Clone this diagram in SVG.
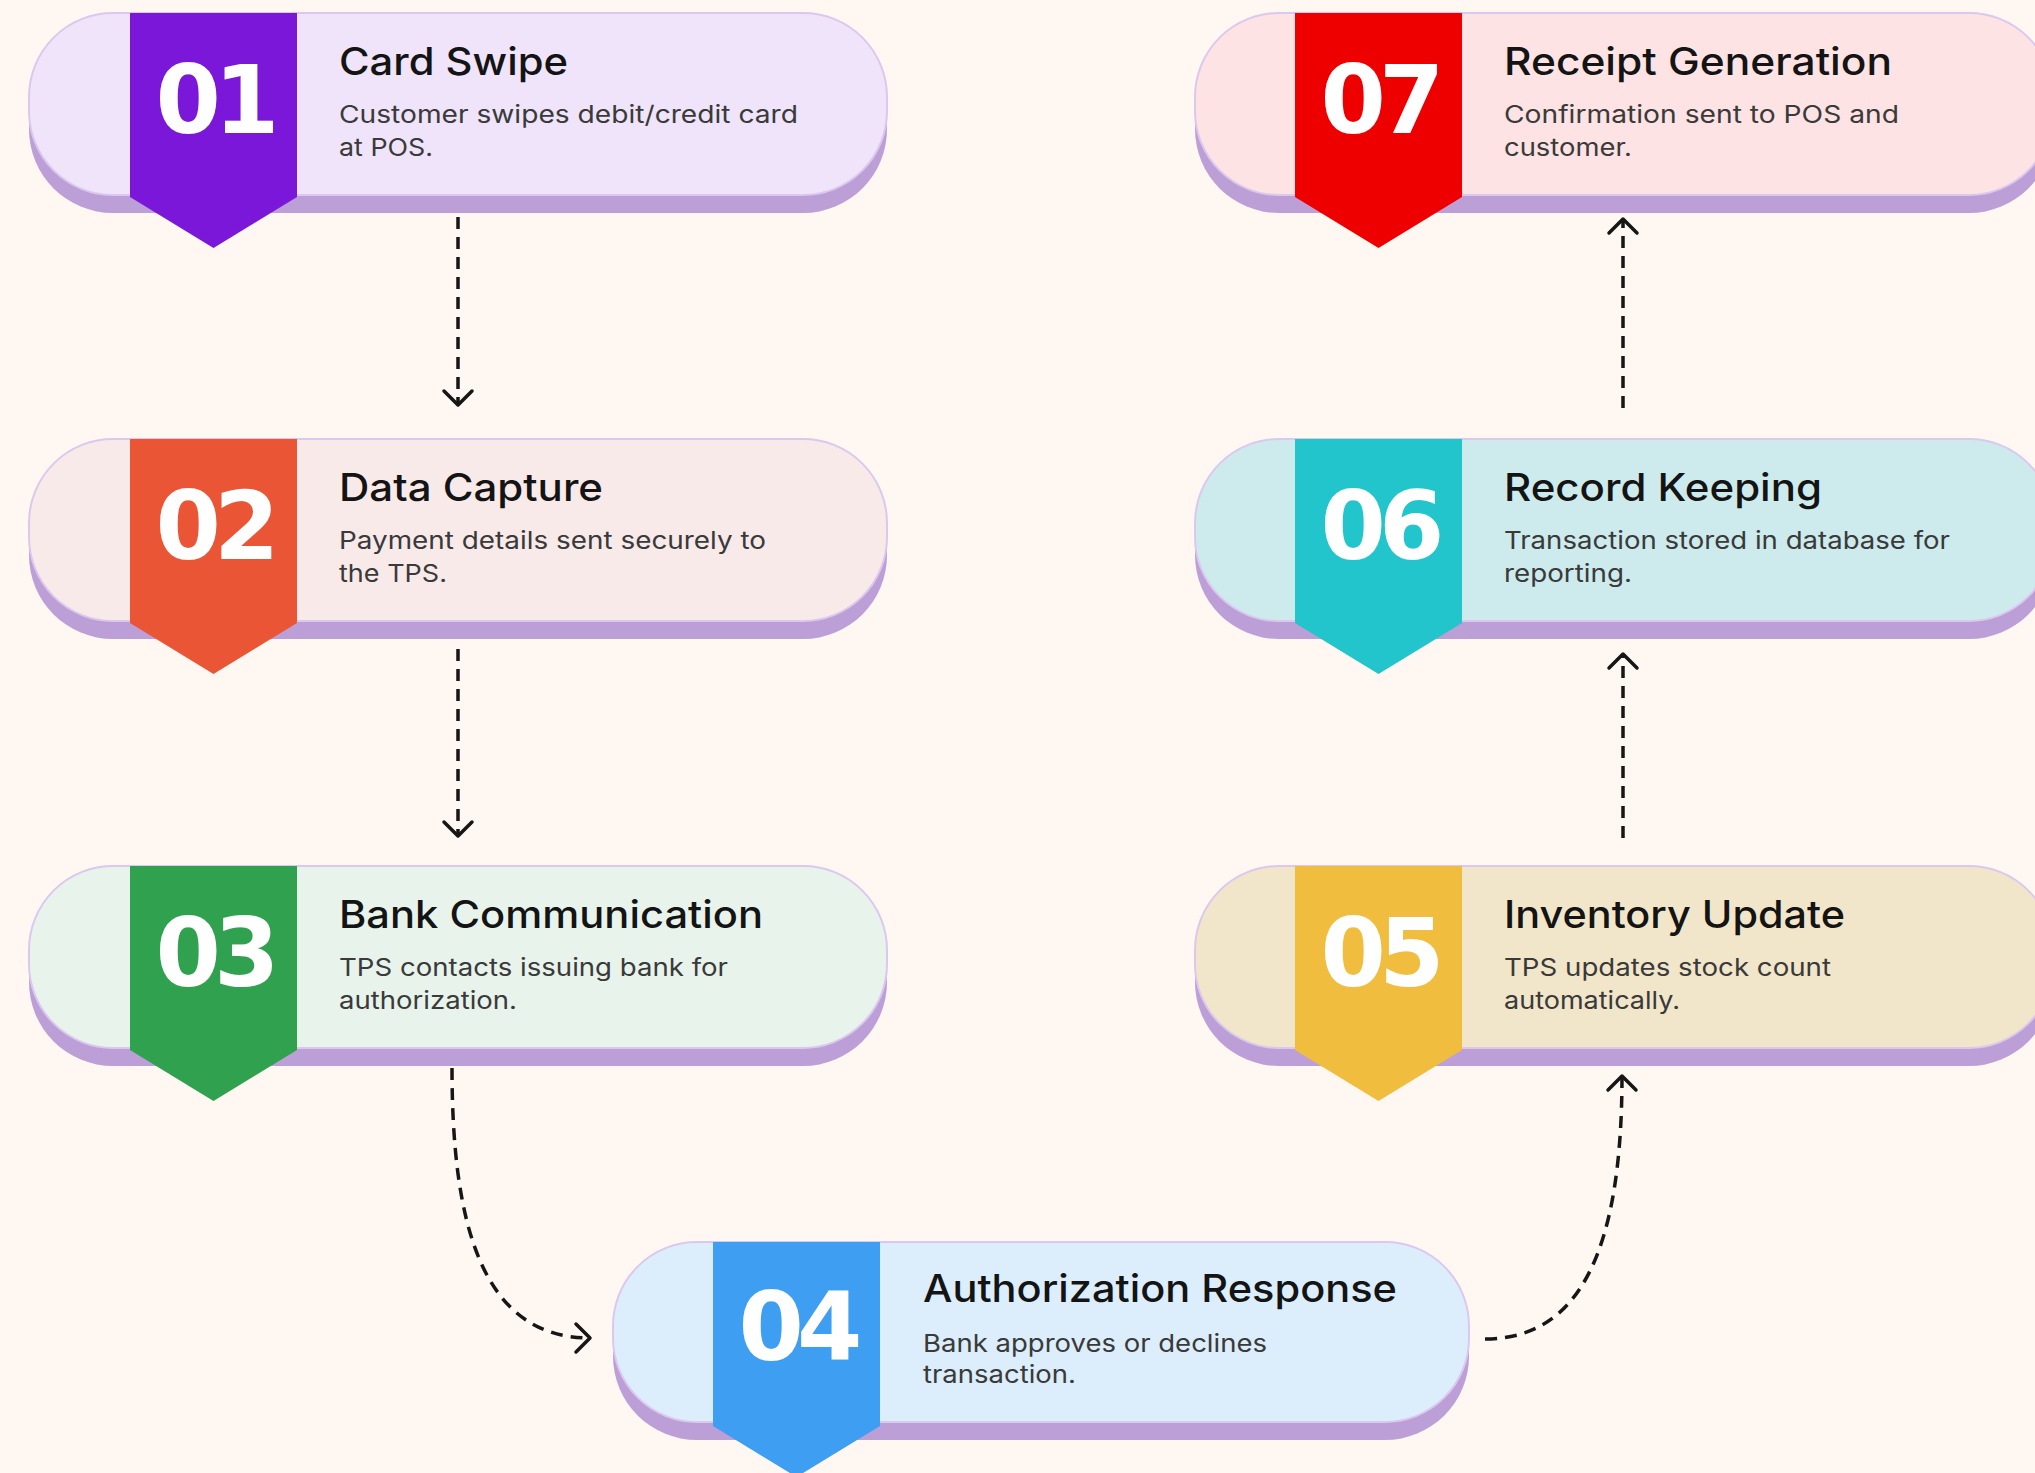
<svg xmlns="http://www.w3.org/2000/svg" width="2035" height="1473" viewBox="0 0 2035 1473">
<style>
.bg{fill:#FEF7F2}
.shadow{fill:#BC9FD6}
.pill{stroke:#DCC8EE;stroke-width:2}
.num{font-family:"DejaVu Sans","Liberation Sans",sans-serif;font-weight:700;font-size:94px;fill:#FFFFFF;text-anchor:middle;letter-spacing:-7px}
.title{font-family:Inter,"Liberation Sans",sans-serif;font-weight:500;font-size:38px;fill:#141414}
.desc{font-family:Inter,"Liberation Sans",sans-serif;font-weight:400;font-size:24.5px;fill:#3A3A3A}
.conn{fill:none;stroke:#161616;stroke-width:3.5;stroke-dasharray:12 8}
</style>
<defs>
<marker id="chev" viewBox="-18 -18 22 36" markerWidth="22" markerHeight="36" refX="0" refY="0" orient="auto" markerUnits="userSpaceOnUse">
<path d="M-14,-14 L0,0 L-14,14" fill="none" stroke="#161616" stroke-width="3.5" stroke-linecap="round" stroke-linejoin="round" stroke-dasharray="none"/>
</marker>
</defs>
<rect class="bg" x="0" y="0" width="2035" height="1473"/>

<g id="connectors">
<path class="conn" d="M458,217 L458,405" marker-end="url(#chev)"/>
<path class="conn" d="M458,649 L458,836" marker-end="url(#chev)"/>
<path class="conn" d="M452,1068 C452,1220 480,1338 590,1338" marker-end="url(#chev)"/>
<path class="conn" d="M1485,1339 C1580,1339 1622,1250 1622,1076" marker-end="url(#chev)"/>
<path class="conn" d="M1623,838 L1623,654" marker-end="url(#chev)"/>
<path class="conn" d="M1623,408 L1623,219" marker-end="url(#chev)"/>
</g>

<g id="step-01" transform="translate(29,13)">
<rect class="shadow" x="0" y="18" width="858" height="182" rx="84"/>
<rect class="pill" x="0" y="0" width="858" height="182" rx="84" fill="#EFE4F9"/>
<path d="M101,0 H268 V184 L184.5,235 L101,184 Z" fill="#7B17D9"/>
<text class="num" x="185" y="120">01</text>
<text class="title" x="310" y="62" textLength="229" lengthAdjust="spacingAndGlyphs">Card Swipe</text>
<text class="desc" x="310" y="110" textLength="459" lengthAdjust="spacingAndGlyphs">Customer swipes debit/credit card</text>
<text class="desc" x="310" y="143" textLength="94" lengthAdjust="spacingAndGlyphs">at POS.</text>
</g>

<g id="step-02" transform="translate(29,439)">
<rect class="shadow" x="0" y="18" width="858" height="182" rx="84"/>
<rect class="pill" x="0" y="0" width="858" height="182" rx="84" fill="#F9EAEA"/>
<path d="M101,0 H268 V184 L184.5,235 L101,184 Z" fill="#EA5535"/>
<text class="num" x="185" y="120">02</text>
<text class="title" x="310" y="62" textLength="264" lengthAdjust="spacingAndGlyphs">Data Capture</text>
<text class="desc" x="310" y="110" textLength="427" lengthAdjust="spacingAndGlyphs">Payment details sent securely to</text>
<text class="desc" x="310" y="143" textLength="108" lengthAdjust="spacingAndGlyphs">the TPS.</text>
</g>

<g id="step-03" transform="translate(29,866)">
<rect class="shadow" x="0" y="18" width="858" height="182" rx="84"/>
<rect class="pill" x="0" y="0" width="858" height="182" rx="84" fill="#E8F3EC"/>
<path d="M101,0 H268 V184 L184.5,235 L101,184 Z" fill="#30A14E"/>
<text class="num" x="185" y="120">03</text>
<text class="title" x="310" y="62" textLength="424" lengthAdjust="spacingAndGlyphs">Bank Communication</text>
<text class="desc" x="310" y="110" textLength="389" lengthAdjust="spacingAndGlyphs">TPS contacts issuing bank for</text>
<text class="desc" x="310" y="143" textLength="178" lengthAdjust="spacingAndGlyphs">authorization.</text>
</g>

<g id="step-04" transform="translate(613,1242)">
<rect class="shadow" x="0" y="18" width="856" height="180" rx="84"/>
<rect class="pill" x="0" y="0" width="856" height="180" rx="84" fill="#DCEEFC"/>
<path d="M100,0 H267 V184 L183.5,235 L100,184 Z" fill="#3D9EF2"/>
<text class="num" x="184" y="118">04</text>
<text class="title" x="310" y="60" textLength="474" lengthAdjust="spacingAndGlyphs">Authorization Response</text>
<text class="desc" x="310" y="110" textLength="344" lengthAdjust="spacingAndGlyphs">Bank approves or declines</text>
<text class="desc" x="310" y="141" textLength="153" lengthAdjust="spacingAndGlyphs">transaction.</text>
</g>

<g id="step-05" transform="translate(1195,866)">
<rect class="shadow" x="0" y="18" width="858" height="182" rx="84"/>
<rect class="pill" x="0" y="0" width="858" height="182" rx="84" fill="#F1E6C9"/>
<path d="M100,0 H267 V184 L183.5,235 L100,184 Z" fill="#F0BD3E"/>
<text class="num" x="184" y="120">05</text>
<text class="title" x="309" y="62" textLength="341" lengthAdjust="spacingAndGlyphs">Inventory Update</text>
<text class="desc" x="309" y="110" textLength="327" lengthAdjust="spacingAndGlyphs">TPS updates stock count</text>
<text class="desc" x="309" y="143" textLength="176" lengthAdjust="spacingAndGlyphs">automatically.</text>
</g>

<g id="step-06" transform="translate(1195,439)">
<rect class="shadow" x="0" y="18" width="858" height="182" rx="84"/>
<rect class="pill" x="0" y="0" width="858" height="182" rx="84" fill="#CDEBED"/>
<path d="M100,0 H267 V184 L183.5,235 L100,184 Z" fill="#22C5CB"/>
<text class="num" x="184" y="120">06</text>
<text class="title" x="309" y="62" textLength="318" lengthAdjust="spacingAndGlyphs">Record Keeping</text>
<text class="desc" x="309" y="110" textLength="446" lengthAdjust="spacingAndGlyphs">Transaction stored in database for</text>
<text class="desc" x="309" y="143" textLength="128" lengthAdjust="spacingAndGlyphs">reporting.</text>
</g>

<g id="step-07" transform="translate(1195,13)">
<rect class="shadow" x="0" y="18" width="858" height="182" rx="84"/>
<rect class="pill" x="0" y="0" width="858" height="182" rx="84" fill="#FDE3E4"/>
<path d="M100,0 H267 V184 L183.5,235 L100,184 Z" fill="#EE0000"/>
<text class="num" x="184" y="120">07</text>
<text class="title" x="309" y="62" textLength="388" lengthAdjust="spacingAndGlyphs">Receipt Generation</text>
<text class="desc" x="309" y="110" textLength="395" lengthAdjust="spacingAndGlyphs">Confirmation sent to POS and</text>
<text class="desc" x="309" y="143" textLength="128" lengthAdjust="spacingAndGlyphs">customer.</text>
</g>
</svg>
